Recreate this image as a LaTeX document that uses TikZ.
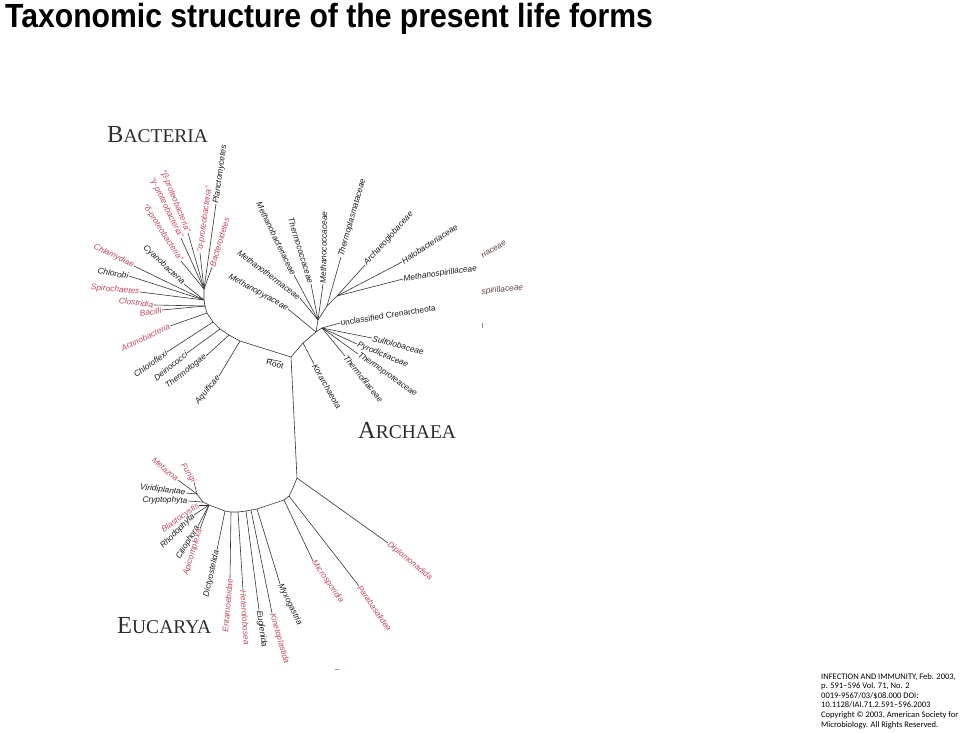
\documentclass[tikz,border=0pt]{standalone}
\usepackage{fontspec}
\newfontfamily\lblfont{Liberation Sans}
\newfontfamily\citefont{Carlito}
\newfontfamily\domfont{Liberation Serif}
\usetikzlibrary{calc}
\definecolor{taxred}{RGB}{192,72,96}
\definecolor{domgray}{RGB}{45,45,45}
\definecolor{fragbrown}{RGB}{96,64,64}
% big first letter, smaller capitals after it
\newcommand{\domname}[2]{{\fontsize{24.5}{25}\selectfont #1}{\fontsize{19.5}{20}\selectfont #2}}

\begin{document}
\begin{tikzpicture}[x=1pt,y=-1pt,
  branch/.style={draw=black!80,line width=0.6pt},
  taxon/.style={font=\lblfont\itshape\fontsize{8.3}{9}\selectfont,inner sep=0.5pt,text=black!90},
  uptaxon/.style={taxon,font=\lblfont\fontsize{8.3}{9}\selectfont},
  redtaxon/.style={taxon,text=taxred},
  domainlabel/.style={font=\domfont,text=domgray,anchor=base west,inner sep=0pt}]
\useasboundingbox (0,0) rectangle (960,732);

\node[anchor=base west,inner sep=0pt,xscale=0.9,
  font=\lblfont\bfseries\fontsize{33.5}{34}\selectfont] (title) at (5,27)
  {Taxonomic structure of the present life forms};

% hubs of the tree
\coordinate (root) at (291,357);
\coordinate (bp) at (204,289);  \coordinate (bc) at (204,300);
\coordinate (bd) at (205,306);  \coordinate (be) at (207,313);
\coordinate (bf) at (213,322);  \coordinate (bg) at (220,329);
\coordinate (bh) at (229,335);  \coordinate (bi) at (240,341);
\coordinate (ak) at (303,343);  \coordinate (aa) at (316,332);
\coordinate (ac) at (322,328);  \coordinate (ae) at (318,320);
\coordinate (em) at (327,306);  \coordinate (eh) at (337,296);
\coordinate (eu) at (297,478);  \coordinate (e1) at (293,488);
\coordinate (e2) at (289,496);  \coordinate (e3) at (284,500);
\coordinate (e4) at (257,509);  \coordinate (e5) at (251,510);
\coordinate (e6) at (246,511);  \coordinate (e7) at (238,512);
\coordinate (e8) at (231,512);  \coordinate (e9) at (225,511);
\coordinate (ec3) at (209,505); \coordinate (ec2) at (203,502);
\coordinate (ec1) at (197,494);

\draw[branch] (bp) -- (bc) -- (bd) -- (be) -- (bf) -- (bg) -- (bh) -- (bi)
  -- (root) -- (ak) -- (aa) -- (ac);
\draw[branch] (aa) -- (ae) -- (em) -- (eh);
\draw[branch] (root) -- (eu) -- (e1) -- (e2) -- (e3) -- (e4) -- (e5) -- (e6)
  -- (e7) -- (e8) -- (e9) -- (ec3) -- (ec2) -- (ec1);

% black leaves
\foreach \n/\x/\y/\r/\a/\h/\t in {
  plancto/216/204/82/west/bp/Planctomycetes,
  cyano/184/284/-43/east/bc/Cyanobacteria,
  chlorobi/129/276/-9/east/bc/Chlorobi,
  chloro/167/352/36/east/bf/Chloroflexi,
  deino/187/353/39/east/bg/Deinococci,
  thermotog/206/356/38/east/bh/Thermotogae,
  aquif/219/376/51/east/bi/Aquificae,
  korarch/314/364/-60/west/ak/Korarchaeota,
  sulfo/372/338/-15/west/ac/Sulfolobaceae,
  pyrod/357/344/-23/west/ac/Pyrodictiaceae,
  thprot/358/354/-35/west/ac/Thermoproteaceae,
  thfil/345/356/-51/west/ac/Thermofilaceae,
  mpyr/288/309/-29/east/aa/Methanopyraceae,
  mtherm/300/298/-37/east/ae/Methanothermaceae,
  mbact/294/275/-64/east/ae/Methanobacteriaceae,
  thcocc/311/284/-73/east/ae/Thermococcaceae,
  mcocc/323/284/89/west/ae/Methanococcaceae,
  thplas/341/257/74/west/em/Thermoplasmataceae,
  aglob/365/265/48/west/eh/Archaeoglobaceae,
  halo/402/262/33/west/eh/Halobacteriaceae,
  mspir/403/279/8/west/eh/Methanospirillaceae,
  myxo/280/584/-64/west/e4/Myxogastria,
  eugl/259/610/-82/west/e6/Euglenida,
  dicty/217/550/77/east/e9/Dictyostelida,
  virid/186/493/-7/east/ec1/Viridiplantae,
  crypto/188/501/-1/east/ec2/Cryptophyta,
  rhodo/194/515/45/east/ec3/Rhodophyta,
  cilio/198/526/59/east/ec3/Ciliophora}
{
  \node[taxon,rotate=\r,anchor=\a] (\n) at (\x,\y) {\t};
  \draw[branch] (\h) -- (\n.\a);
}

% red leaves
\foreach \n/\x/\y/\r/\a/\h/\t in {
  alpha/200/253/82/west/bp/“α-proteobacteria”,
  bactero/212/267/73/west/bp/Bacteroidetes,
  beta/188/233/-68/east/bp/“β-proteobacteria”,
  gamma/181/238/-64/east/bp/“γ-proteobacteria”,
  delta/181/261/-57/east/bp/“δ-proteobacteria”,
  chlamy/134/266/-26/east/bc/Chlamydiae,
  spiro/140/292/-5/east/bc/Spirochaetes,
  clostr/154/305/-8/east/bd/Clostridia,
  bacilli/162/310/10/east/bd/Bacilli,
  actino/170/326/25/east/be/Actinobacteria,
  diplo/388/543/-40/west/eu/Diplomonadida,
  parab/359/586/-55/west/e2/Parabasalidea,
  micro/313/561/-55/west/e3/Microsporidia,
  kineto/272/613/-74/west/e5/Kinetoplastida,
  hetero/243/590/-86/west/e7/Heterolobosea,
  entam/230/578/85/east/e8/Entamoebidae,
  metaz/178/480/-40/east/ec1/Metazoa,
  fungi/194/482/-57/east/ec1/Fungi,
  blasto/199/505/35/east/ec3/Blastocystis,
  apico/200/529/73/east/ec3/Apicomplexa}
{
  \node[redtaxon,rotate=\r,anchor=\a] (\n) at (\x,\y) {\t};
  \draw[branch] (\h) -- (\n.\a);
}

\node[uptaxon,rotate=9,anchor=west] (uncren) at (340,323) {unclassified Crenarcheota};
\draw[branch] (ac) -- (uncren.west);

\node[uptaxon,rotate=-12] (rootlbl) at (275,364) {Root};
\draw[branch] ($(rootlbl.north west)!0.1!(rootlbl.north east)$)
  -- ($(rootlbl.north west)!0.8!(rootlbl.north east)$);

\node[domainlabel] (bact) at (107,142) {\domname{B}{ACTERIA}};
\node[domainlabel] (arch) at (358,438) {\domname{A}{RCHAEA}};
\node[domainlabel] (euca) at (117,633) {\domname{E}{UCARYA}};

% stray bits of the scan
\node[taxon,text=fragbrown,rotate=30,anchor=west] (frag1) at (481,256) {riaceae};
\node[taxon,text=fragbrown,rotate=6,anchor=west] (frag2) at (481,292) {spirillaceae};
\draw[black!50,line width=0.5pt] (482,323) -- (482,328);
\draw[taxred!70,line width=0.8pt] (335,669) -- (339,669);

\node[anchor=north west,align=left,inner sep=0pt,
  font=\citefont\fontsize{8.5}{9.6}\selectfont] (cite) at (821,673)
  {INFECTION AND IMMUNITY, Feb. 2003,\\ p. 591–596 Vol. 71, No. 2\\
   0019-9567/03/\$08.000 DOI:\\ 10.1128/IAI.71.2.591–596.2003\\
   Copyright © 2003, American Society for\\ Microbiology. All Rights Reserved.};
\end{tikzpicture}
\end{document}
